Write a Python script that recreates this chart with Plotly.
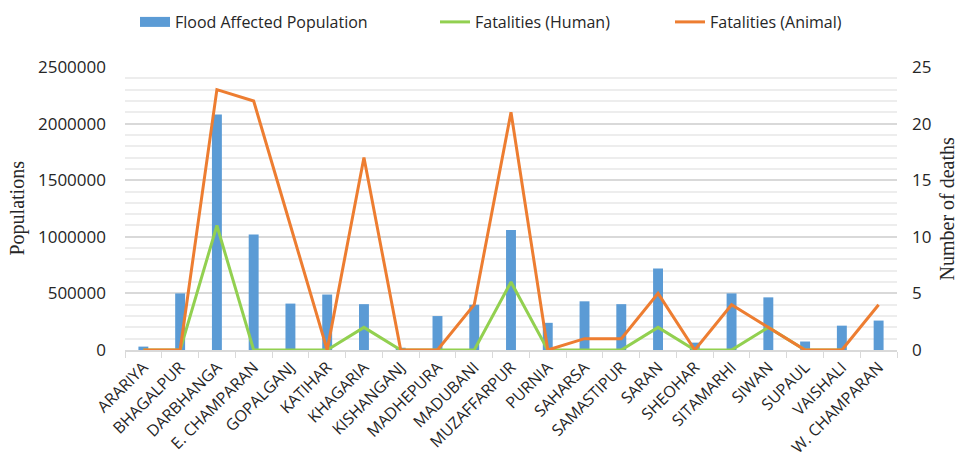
import plotly.graph_objects as go

# District-wise flood impact
districts = [
    "ARARIYA", "BHAGALPUR", "DARBHANGA", "E. CHAMPARAN", "GOPALGANJ",
    "KATIHAR", "KHAGARIA", "KISHANGANJ", "MADHEPURA", "MADUBANI",
    "MUZAFFARPUR", "PURNIA", "SAHARSA", "SAMASTIPUR", "SARAN",
    "SHEOHAR", "SITAMARHI", "SIWAN", "SUPAUL", "VAISHALI", "W. CHAMPARAN",
]
affected_population = [
    30000, 500000, 2080000, 1020000, 410000,
    490000, 405000, 20000, 300000, 400000,
    1060000, 240000, 430000, 405000, 720000,
    65000, 500000, 465000, 75000, 215000, 260000,
]
human_fatalities = [
    0, 0, 11, 0, 0,
    0, 2, 0, 0, 0,
    6, 0, 0, 0, 2,
    0, 0, 2, 0, 0, None,
]
animal_fatalities = [
    0, 0, 23, 22, 11,
    0, 17, 0, 0, 4,
    21, 0, 1, 1, 5,
    0, 4, 2, 0, 0, 4,
]
pop_ticks = [0, 500000, 1000000, 1500000, 2000000, 2500000]
death_ticks = [0, 5, 10, 15, 20, 25]

BLUE = "#5B9BD5"
GREEN = "#92D050"
ORANGE = "#ED7D31"
TEXT = "#262626"
SANS = "Open Sans"
SERIF = "Liberation Serif"

fig = go.Figure()
fig.add_trace(go.Bar(
    x=districts, y=affected_population, name="Flood Affected Population",
    marker=dict(color=BLUE, line=dict(width=0)), width=0.27,
    showlegend=False,
))
# legend key for the bars, drawn as a wide flat swatch
fig.add_trace(go.Scatter(
    x=[None], y=[None], name="Flood Affected Population",
    mode="lines", line=dict(color=BLUE, width=10),
    legend="legend", showlegend=True, hoverinfo="skip",
))
fig.add_trace(go.Scatter(
    x=districts, y=human_fatalities, name="Fatalities (Human)", yaxis="y2",
    mode="lines", line=dict(color=GREEN, width=3), connectgaps=False,
    legend="legend2", showlegend=True,
))
fig.add_trace(go.Scatter(
    x=districts, y=animal_fatalities, name="Fatalities (Animal)", yaxis="y2",
    mode="lines", line=dict(color=ORANGE, width=3),
    legend="legend3", showlegend=True,
))

legend_common = dict(
    orientation="h", xref="container", yref="container", yanchor="middle",
    xanchor="left", y=1 - 22 / 469, bgcolor="rgba(0,0,0,0)",
    font=dict(family=SANS, size=16, color=TEXT),
)

fig.update_layout(
    width=965, height=469,
    margin=dict(l=125, r=68, t=67, b=119),
    paper_bgcolor="white", plot_bgcolor="white",
    showlegend=True,
    font=dict(family=SANS, size=15, color=TEXT),
    legend=dict(x=135 / 965, **legend_common),
    legend2=dict(x=435 / 965, **legend_common),
    legend3=dict(x=670 / 965, **legend_common),
    xaxis=dict(
        type="category", tickangle=-45, tickson="boundaries",
        ticks="outside", ticklen=6, tickcolor="#D9D9D9", tickwidth=1,
        showline=True, linecolor="#D9D9D9", linewidth=1.5,
        showgrid=False, tickfont=dict(family=SANS, size=16, color=TEXT),
    ),
    yaxis=dict(
        range=[0, 2500000], tickvals=pop_ticks,
        ticktext=[str(v) for v in pop_ticks],
        showline=False, zeroline=False,
        gridcolor="#D9D9D9", gridwidth=1.5,
        minor=dict(dtick=100000, showgrid=True, gridcolor="#EDEDED", gridwidth=1.5),
        ticklabelstandoff=18,
        tickfont=dict(family=SANS, size=17, color=TEXT),
    ),
    yaxis2=dict(
        range=[0, 25], tickvals=death_ticks, overlaying="y", side="right",
        showgrid=False, showline=False, zeroline=False,
        ticklabelstandoff=14,
        tickfont=dict(family=SANS, size=17, color=TEXT),
    ),
    annotations=[
        dict(text="Populations", textangle=-90, xref="paper", yref="paper",
             x=-108 / 772, y=0.5, xanchor="center", yanchor="middle",
             showarrow=False, font=dict(family=SERIF, size=20, color=TEXT)),
        dict(text="Number of deaths", textangle=-90, xref="paper", yref="paper",
             x=1 + 49 / 772, y=0.5, xanchor="center", yanchor="middle",
             showarrow=False, font=dict(family=SERIF, size=20, color=TEXT)),
    ],
)

fig.write_html("out.html")
